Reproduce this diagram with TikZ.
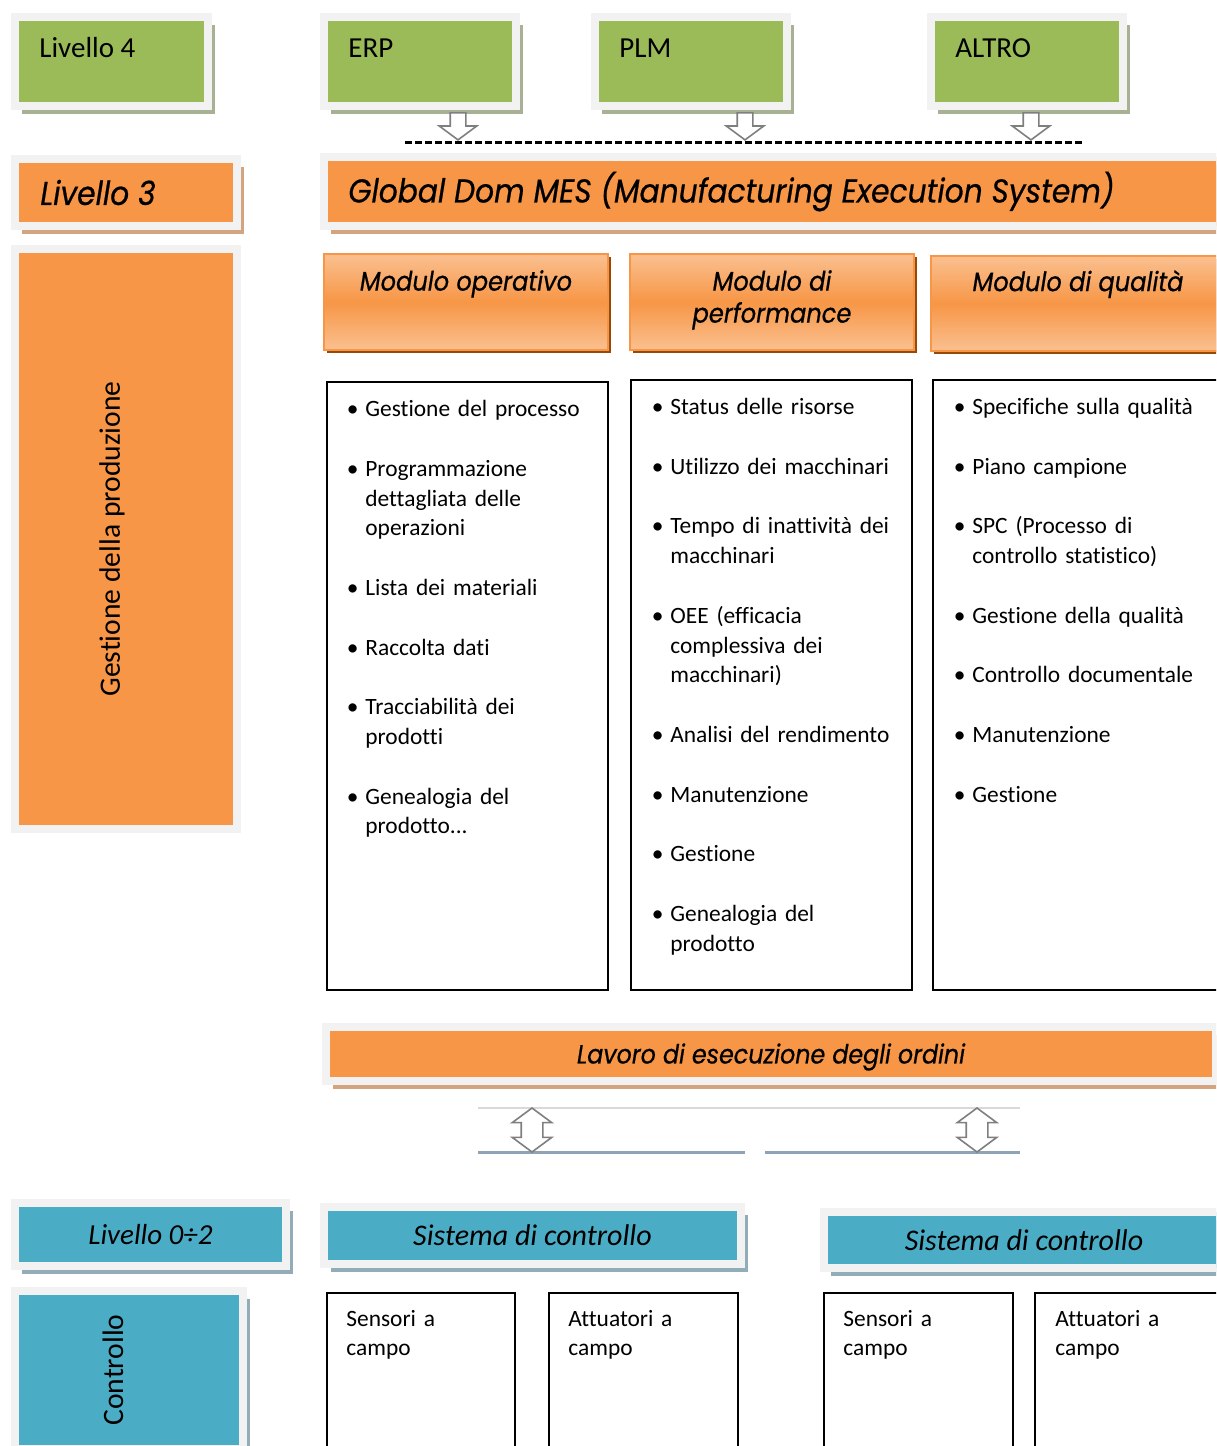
\documentclass[tikz,border=0pt]{standalone}
\usepackage{fontspec}
\setmainfont{Carlito}[Ligatures=NoCommon]
\newfontfamily\titolo[FakeStretch=0.9, FakeBold=0.6]{Poppins}
\usetikzlibrary{shapes.arrows,shadows}

\definecolor{verde}{HTML}{9BBB59}
\definecolor{arancio}{HTML}{F79646}
\definecolor{chiaro}{HTML}{FAC090}
\definecolor{azzurro}{HTML}{4BACC6}
\definecolor{grigio}{HTML}{F2F2F2}
\definecolor{ombraverde}{HTML}{A6B293}
\definecolor{ombraarancio}{HTML}{D2A47F}
\definecolor{ombraazzurro}{HTML}{93ADB8}
\definecolor{ombramodulo}{HTML}{984807}
\definecolor{frecce}{HTML}{7F7F7F}
\definecolor{filo}{HTML}{D9D9D9}
\definecolor{filoblu}{HTML}{8EA4B6}

% voce di elenco puntato, il pallino sporge a sinistra
\newcommand{\voce}[1]{\leavevmode\llap{\textbullet\hspace{3.5pt}}#1}
\newcommand{\salto}{14.9pt}

\begin{document}
\begin{tikzpicture}[x=0.5pt, y=-0.5pt,
  base/.style={rectangle, anchor=north west, inner sep=0pt, outer sep=0pt},
  cornice/.style={base, draw=grigio, line width=4pt},
  verdebox/.style={cornice, fill=verde, drop shadow={shadow xshift=3.5pt, shadow yshift=-4pt, fill=ombraverde, opacity=1}},
  arancbox/.style={cornice, fill=arancio, drop shadow={shadow xshift=3.5pt, shadow yshift=-4pt, fill=ombraarancio, opacity=1}},
  azzbox/.style={cornice, fill=azzurro, drop shadow={shadow xshift=3.5pt, shadow yshift=-4pt, fill=ombraazzurro, opacity=1}},
  modulo/.style={base, draw=arancio, line width=1pt, top color=chiaro, bottom color=chiaro, middle color=arancio,
    drop shadow={shadow xshift=1.5pt, shadow yshift=-1.5pt, fill=ombramodulo, opacity=1}},
  elenco/.style={base, draw=black, line width=1pt, fill=white},
  voci/.style={anchor=north west, inner sep=0pt, align=left, text width=126pt, font=\fontsize{11.7}{14.9}\selectfont},
  campo/.style={voci, font=\fontsize{11.7}{14.5}\selectfont, yshift=-8.5pt},
  fsist/.style={font=\fontsize{14.5}{17}\selectfont, text height=10pt},
  ftitolo/.style={font=\titolo\itshape\fontsize{16.5}{19}\selectfont},
  fmodulo/.style={font=\titolo\itshape\fontsize{13.4}{16}\selectfont},
  flavoro/.style={font=\titolo\itshape\fontsize{13.2}{16}\selectfont},
  fcorsivo/.style={font=\itshape\fontsize{15}{18}\selectfont},
  fverticale/.style={font=\fontsize{14.8}{17}\selectfont},
  giu/.style={single arrow, draw=frecce, fill=white, line width=0.8pt, inner xsep=0pt, inner ysep=3.5pt,
    single arrow head extend=5.5pt, single arrow tip angle=107, minimum height=13.5pt, rotate=-90},
  sugiu/.style={double arrow, draw=frecce, fill=white, line width=0.8pt, inner xsep=0pt, inner ysep=5pt,
    double arrow head extend=4.5pt, double arrow tip angle=107, minimum height=22pt, rotate=90},
]
\clip[use as bounding box] (0,0) rectangle (1216,1446);

% livello 4
\node[verdebox, minimum width=96.5pt, minimum height=44.5pt,
  label={[anchor=north west, inner sep=0pt, xshift=12pt, yshift=-10pt, fsist]north west:Livello 4}] (liv4) at (15,17) {};
\node[verdebox, minimum width=96pt, minimum height=44.5pt,
  label={[anchor=north west, inner sep=0pt, xshift=12pt, yshift=-10pt, fsist]north west:ERP}] (erp) at (324,17) {};
\node[verdebox, minimum width=96pt, minimum height=44.5pt,
  label={[anchor=north west, inner sep=0pt, xshift=12pt, yshift=-10pt, fsist]north west:PLM}] (plm) at (595,17) {};
\node[verdebox, minimum width=96pt, minimum height=44.5pt,
  label={[anchor=north west, inner sep=0pt, xshift=12pt, yshift=-10pt, fsist]north west:ALTRO}] (altro) at (931,17) {};

\node[giu] (gerp) at (458,123.5) {};
\node[giu] (gplm) at (745,123.5) {};
\node[giu] (galtro) at (1031,123.5) {};
\coordinate (busw) at (405,142);
\coordinate (buse) at (1082,142);
\draw[line width=1.5pt, dash pattern=on 3.5pt off 1.5pt] (busw) -- (buse);

% livello 3
\node[arancbox, minimum width=111pt, minimum height=33.5pt,
  label={[anchor=west, inner sep=0pt, xshift=12.5pt, ftitolo]west:Livello 3}] (liv3) at (15,159) {};
\node[arancbox, minimum width=450pt, minimum height=34.5pt,
  label={[anchor=west, inner sep=0pt, xshift=12pt, ftitolo]west:Global Dom MES (Manufacturing Execution System)}] (mes) at (324,157) {};
\node[cornice, fill=arancio, minimum width=111pt, minimum height=290pt,
  label={[xshift=-7pt, rotate=90, fverticale]center:Gestione della produzione}] (gest) at (15,249) {};

\node[modulo, minimum width=142pt, minimum height=48pt,
  label={[anchor=north, inner sep=0pt, yshift=-7.9pt, fmodulo]north:Modulo operativo}] (modop) at (324,254) {};
\node[modulo, minimum width=142pt, minimum height=48pt,
  label={[anchor=north, inner sep=0pt, yshift=-7.9pt, fmodulo, align=center]north:Modulo di\\performance}] (modperf) at (630,254) {};
\node[modulo, minimum width=147pt, minimum height=47.5pt,
  label={[anchor=north, inner sep=0pt, yshift=-6.9pt, fmodulo]north:Modulo di qualità}] (modqual) at (931,256) {};

\node[elenco, minimum width=140.5pt, minimum height=304pt,
  label={[voci, xshift=19pt, yshift=-9pt]north west:
    \voce{Gestione del processo}\\[\salto]
    \voce{Programmazione}\\dettagliata delle\\operazioni\\[\salto]
    \voce{Lista dei materiali}\\[\salto]
    \voce{Raccolta dati}\\[\salto]
    \voce{Tracciabilità dei}\\prodotti\\[\salto]
    \voce{Genealogia del}\\prodotto...}] (lop) at (327,382) {};
\node[elenco, minimum width=140.5pt, minimum height=305pt,
  label={[voci, xshift=19.5pt, yshift=-9pt]north west:
    \voce{Status delle risorse}\\[\salto]
    \voce{Utilizzo dei macchinari}\\[\salto]
    \voce{Tempo di inattività dei}\\macchinari\\[\salto]
    \voce{OEE (efficacia}\\complessiva dei\\macchinari)\\[\salto]
    \voce{Analisi del rendimento}\\[\salto]
    \voce{Manutenzione}\\[\salto]
    \voce{Gestione}\\[\salto]
    \voce{Genealogia del}\\prodotto}] (lperf) at (631,380) {};
\node[elenco, minimum width=146pt, minimum height=305pt,
  label={[voci, xshift=19.5pt, yshift=-9pt]north west:
    \voce{Specifiche sulla qualità}\\[\salto]
    \voce{Piano campione}\\[\salto]
    \voce{SPC (Processo di}\\controllo statistico)\\[\salto]
    \voce{Gestione della qualità}\\[\salto]
    \voce{Controllo documentale}\\[\salto]
    \voce{Manutenzione}\\[\salto]
    \voce{Gestione}}] (lqual) at (933,380) {};

\node[arancbox, minimum width=445pt, minimum height=27pt,
  label={[yshift=-1.5pt, flavoro]center:Lavoro di esecuzione degli ordini}] (lavoro) at (326,1027) {};

% collegamento verso il campo
\coordinate (fa) at (478,1108);
\coordinate (fb) at (1020,1108);
\coordinate (fc) at (478,1152);
\coordinate (fd) at (745,1152);
\coordinate (fe) at (765,1152);
\coordinate (ff) at (1020,1152);
\draw[filo, line width=1pt] (fa) -- (fb);
\draw[filoblu, line width=1.5pt] (fc) -- (fd) (fe) -- (ff);
\node[sugiu] (fr1) at (532,1130) {};
\node[sugiu] (fr2) at (977,1130) {};

% livello 0-2
\node[azzbox, minimum width=135.5pt, minimum height=31.5pt, fcorsivo, font=\itshape\fontsize{14.5}{17}\selectfont] (liv02) at (15,1203) {Livello 0÷2};
\node[azzbox, minimum width=208.5pt, minimum height=28.5pt, fcorsivo] (sist1) at (324,1207) {Sistema di controllo};
\node[azzbox, minimum width=200pt, minimum height=28pt, fcorsivo] (sist2) at (824,1212) {Sistema di controllo};
\node[azzbox, minimum width=114pt, minimum height=79pt,
  label={[xshift=-8pt, rotate=90, fverticale]center:Controllo}] (contr) at (15,1291) {};

\node[elenco, minimum width=94pt, minimum height=100pt,
  label={[campo, xshift=9.5pt]north west:Sensori a\\campo}] (sens1) at (327,1293) {};
\node[elenco, minimum width=94.5pt, minimum height=100pt,
  label={[campo, xshift=9.5pt]north west:Attuatori a\\campo}] (att1) at (549,1293) {};
\node[elenco, minimum width=94.5pt, minimum height=100pt,
  label={[campo, xshift=9.5pt]north west:Sensori a\\campo}] (sens2) at (824,1293) {};
\node[elenco, minimum width=100pt, minimum height=100pt,
  label={[campo, xshift=10pt]north west:Attuatori a\\campo}] (att2) at (1035,1293) {};
\end{tikzpicture}
\end{document}
